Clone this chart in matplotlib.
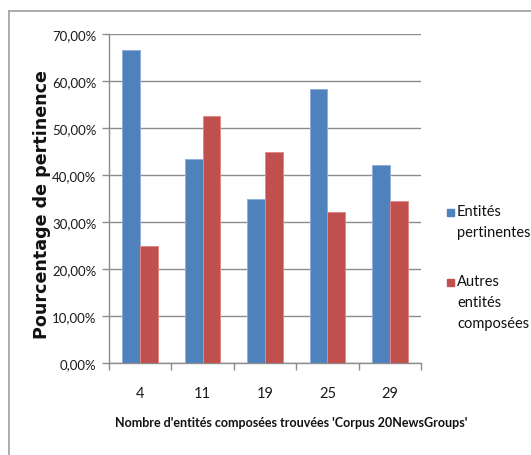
import matplotlib
matplotlib.use("Agg")
import matplotlib.pyplot as plt
from matplotlib.patches import Rectangle
from matplotlib.ticker import FuncFormatter, MultipleLocator
import numpy as np

categories = ["4", "11", "19", "25", "29"]
entites_pertinentes = [66.5, 43.3, 35.0, 58.3, 42.1]
autres_entites = [25.0, 52.5, 45.0, 32.1, 34.5]
series_labels = ["Entités\npertinentes", "Autres\nentités\ncomposées"]
series_colors = ["#4F81BD", "#C0504D"]
edge_colors = ["#8fb0da", "#e08a88"]

plt.rcParams["font.family"] = ["Lato", "DejaVu Sans"]

W, H = 531, 456
fig = plt.figure(figsize=(W / 100, H / 100), dpi=100)

# chart border (left and top edges visible)
fig.add_artist(plt.Line2D([9 / W, 9 / W], [0, 1 - 12 / H], transform=fig.transFigure,
                          color="#a6a6a6", lw=1.3))
fig.add_artist(plt.Line2D([9 / W, 1], [1 - 12 / H, 1 - 12 / H], transform=fig.transFigure,
                          color="#a6a6a6", lw=1.3))

left, right, top, bottom = 109 / W, 421 / W, 35 / H, 364 / H
ax = fig.add_axes([left, 1 - bottom, right - left, bottom - top])

x = np.arange(len(categories))
gap = 1.5
bw = 1 / (2 + gap)
for i, vals in enumerate([entites_pertinentes, autres_entites]):
    ax.bar(x + (i - 0.5) * bw, vals, width=bw, color=series_colors[i],
           edgecolor=edge_colors[i], linewidth=0.7, zorder=3)

ax.set_xlim(-0.5, len(categories) - 0.5)
ax.set_ylim(0, 70)
ax.yaxis.set_major_locator(MultipleLocator(10))
ax.yaxis.set_major_formatter(FuncFormatter(lambda v, p: f"{v:.2f}".replace(".", ",") + "%"))
ax.grid(axis="y", color="#8c8c8c", lw=1.0, zorder=0)
ax.set_axisbelow(True)

ax.set_xticks(x)
ax.set_xticklabels(categories)
ax.set_xticks(np.arange(len(categories) + 1) - 0.5, minor=True)
ax.tick_params(axis="x", which="major", length=0, pad=16.5, labelsize=10.5, labelcolor="#1a1a1a")
ax.tick_params(axis="x", which="minor", length=5, color="#8c8c8c", width=1)
ax.tick_params(axis="y", length=5, color="#8c8c8c", width=1, labelsize=9.5, labelcolor="#1a1a1a", pad=4)

for s in ["top", "right"]:
    ax.spines[s].set_visible(False)
for s in ["left", "bottom"]:
    ax.spines[s].set_color("#8c8c8c")
    ax.spines[s].set_linewidth(1)

# axis titles
fig.text(291 / W, 1 - 423 / H,
         "Nombre d'entités composées trouvées 'Corpus 20NewsGroups'",
         ha="center", va="center", fontsize=9, fontweight="bold", color="#111111")
fig.text(42 / W, 1 - 205 / H, "Pourcentage de pertinence", rotation=90,
         ha="center", va="center", fontsize=12.6, fontweight="bold",
         color="#111111", family=["DejaVu Sans"])

# legend with squares aligned to first line of each label
leg_y = [213, 283]
for lab, col, yy in zip(series_labels, series_colors, leg_y):
    fig.add_artist(Rectangle((447 / W, 1 - (yy + 3.5) / H), 7 / W, 7 / H,
                             transform=fig.transFigure, color=col))
    fig.text(457 / W, 1 - (yy - 8) / H, lab, ha="left", va="top", fontsize=10.5,
             linespacing=1.65, color="#111111")

fig.savefig("out.png", dpi=100)
